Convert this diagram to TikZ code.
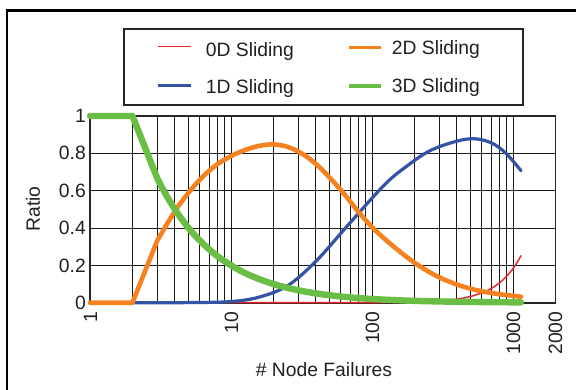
\documentclass[tikz,border=0pt]{standalone}
\usepackage{fontspec}
\setmainfont{Liberation Sans}
\definecolor{cRed}{HTML}{E8262A}
\definecolor{cBlue}{HTML}{3353A4}
\definecolor{cOrange}{HTML}{F5821F}
\definecolor{cGreen}{HTML}{6ABD45}
\definecolor{cInk}{HTML}{231F20}
\begin{document}
\begin{tikzpicture}[x=1pt,y=-1pt,
  font=\fontsize{19.3}{23}\selectfont, text=cInk,
  gridline/.style={line width=0.9pt, draw=black!90},
  plotframe/.style={line width=1.6pt, draw=black!85},
  ticklbl/.style={inner sep=0pt},
  curve/.style={line cap=round, line join=round},
  lgline/.style={line width=#1},
]
\useasboundingbox (0,0) rectangle (576,389);
% outer frame (right and bottom edges lie outside the picture)
\begin{scope}
\clip (0,0) rectangle (576,389);
\draw[line width=2.2pt, draw=black] (7.3,10.5) rectangle (600,420);
\end{scope}

% legend
\node[name=legend, draw=black!85, line width=1.4pt, anchor=north west, inner sep=0pt,
      minimum width=399pt, minimum height=76pt] at (123.3,28.3) {};
\coordinate (l0a) at (158.3,46.7); \coordinate (l0b) at (190.7,46.7);
\coordinate (l1a) at (158.3,85.3); \coordinate (l1b) at (190.7,85.3);
\coordinate (l2a) at (349,47.3);   \coordinate (l2b) at (381.3,47.3);
\coordinate (l3a) at (349,86);     \coordinate (l3b) at (381.3,86);
\draw[cRed, lgline=1.1pt] (l0a) -- (l0b);
\draw[cBlue, lgline=3.2pt] (l1a) -- (l1b);
\draw[cOrange, lgline=3.6pt] (l2a) -- (l2b);
\draw[cGreen, lgline=4.4pt] (l3a) -- (l3b);
\node[name=t0, anchor=base west, inner sep=0pt] at (205.7,56) {0D Sliding};
\node[name=t1, anchor=base west, inner sep=0pt] at (205.7,93.3) {1D Sliding};
\node[name=t2, anchor=base west, inner sep=0pt] at (391.7,54.7) {2D Sliding};
\node[name=t3, anchor=base west, inner sep=0pt] at (391.7,92.7) {3D Sliding};

% data scope: x = log10(n), y = ratio
\begin{scope}[shift={(90,302.7)}, x=141pt, y=186.7pt]
  \foreach \n in {2,3,4,5,6,7,8,9,10,20,30,40,50,60,70,80,90,100,200,300,400,500,600,700,800,900,1000}
    \draw[gridline] ({log10(\n)},0) -- ({log10(\n)},1);
  \foreach \v in {0.2,0.4,0.6,0.8}
    \draw[gridline] (0,\v) -- (3.30103,\v);
  \draw[plotframe] (0,0) rectangle (3.30103,1);

  % 0D sliding
  \draw[curve, cRed, line width=1.5pt] (0,0) -- (2.0,0)
     -- plot[domain=2.0:3.057, samples=50] (\x, {0.252*10^(2.45*(\x-3.057))});
  % 1D sliding
  \draw[curve, cBlue, line width=3.2pt] (0,0) -- (0.301,0)
     plot[smooth, tension=0.55] coordinates {(0.301,0) (0.7,0.0005) (1.0,0.006) (1.2,0.03) (1.4,0.09)
       (1.6,0.22) (1.8,0.39) (1.9,0.475) (2.0,0.56) (2.1,0.64) (2.2,0.705) (2.4,0.81)
       (2.6,0.865) (2.73,0.878) (2.85,0.855) (2.95,0.80) (3.057,0.707)};
  % 2D sliding
  \draw[curve, cOrange, line width=4.6pt] (0,0) -- (0.30103,0) -- (0.4771,0.3333)
     plot[smooth, tension=0.55] coordinates {(0.4771,0.3333) (0.602,0.49) (0.7,0.59) (0.8,0.675)
       (0.9,0.74) (1.0,0.785) (1.1,0.818) (1.2,0.84) (1.3,0.848) (1.4,0.835) (1.5,0.80)
       (1.6,0.745) (1.7,0.67) (1.8,0.585) (1.9,0.49) (2.0,0.405) (2.1,0.335) (2.2,0.272)
       (2.3,0.215) (2.4,0.167) (2.5,0.128) (2.6,0.098) (2.7,0.075) (2.8,0.058) (2.9,0.046)
       (3.0,0.037) (3.057,0.032)};
  % 3D sliding
  \draw[curve, cGreen, line width=6.4pt] (0,1) -- (0.30103,1) -- (0.4771,0.6667)
     -- plot[domain=0.4771:3.057, samples=90] (\x, {2/(10^\x)});

  % y tick labels
  \foreach \v/\t in {0/0,0.2/0.2,0.4/0.4,0.6/0.6,0.8/0.8,1/1}
    \node[ticklbl, anchor=east] (y\t) at (-0.0284,\v) {\t};
\end{scope}

% x tick labels
\node[ticklbl, rotate=90, anchor=east] (x1) at (90.5,311.5) {1};
\node[ticklbl, rotate=90, anchor=east] (x10) at (231.5,311.5) {10};
\node[ticklbl, rotate=90, anchor=east] (x100) at (372.5,311.5) {100};
\node[ticklbl, rotate=90, anchor=east] (x1000) at (513.5,311.5) {1000};
\node[ticklbl, rotate=90, anchor=east] (x2000) at (555.5,311.5) {2000};

% axis titles
\node[ticklbl, rotate=90] (ylab) at (33,209) {Ratio};
\node[ticklbl] (xlab) at (324,370) {\# Node Failures};
\end{tikzpicture}
\end{document}
